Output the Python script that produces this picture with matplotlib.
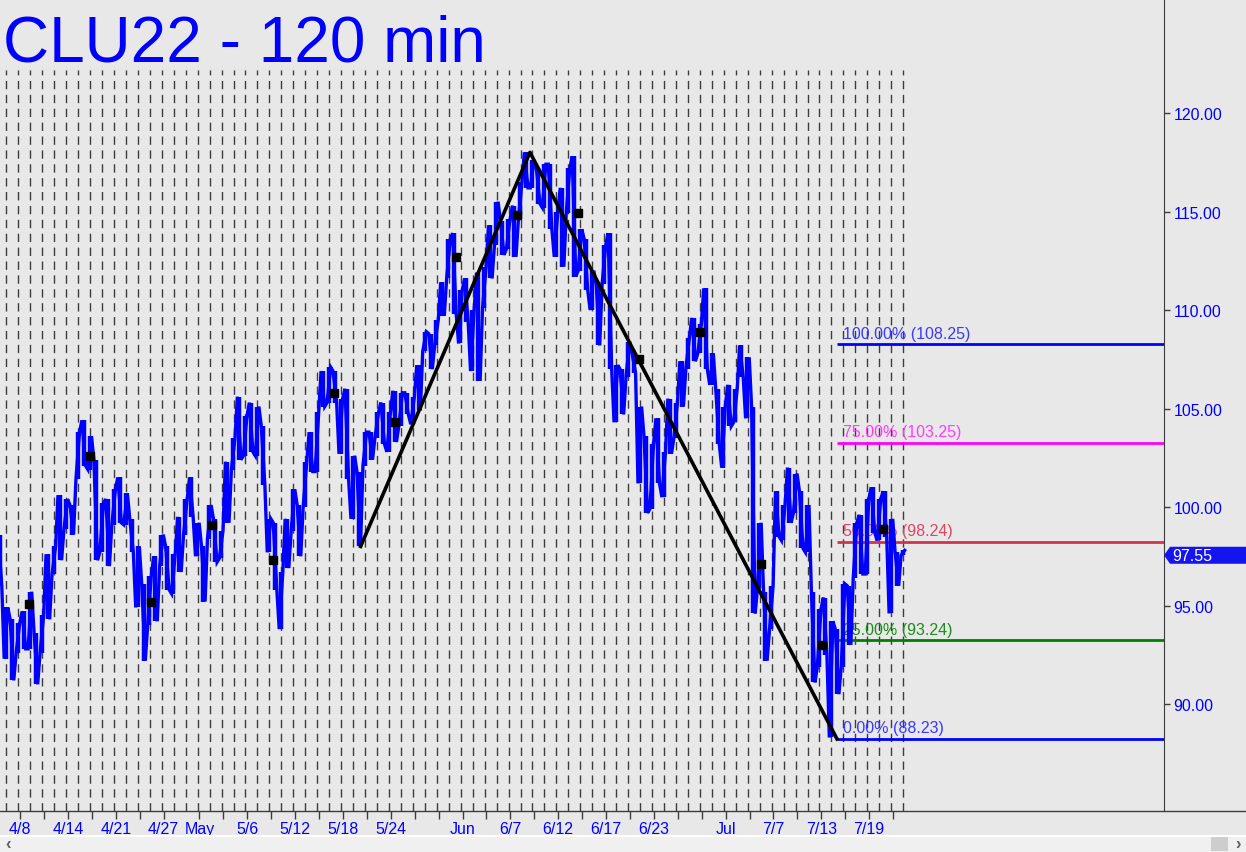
import numpy as np
import matplotlib.pyplot as plt
from matplotlib.lines import Line2D
from matplotlib.patches import Polygon, Rectangle

plt.rcParams['font.family'] = ['Liberation Sans', 'DejaVu Sans']

# 120-min price path, sampled every half trading day (high / low of each slice)
hi = [98.6, 94.9, 94.3, 94.1, 94.7, 95.7, 93.6, 94.5, 97.6, 98.0,
      100.6, 100.4, 100.1, 103.8, 104.4, 103.6, 102.4, 100.2, 100.4, 100.9,
      101.5, 100.7, 99.4, 98.0, 96.1, 96.5, 97.5, 98.6, 98.0, 97.6,
      99.5, 100.4, 101.5, 99.2, 98.0, 100.1, 99.4, 98.8, 102.3, 103.5,
      105.6, 104.6, 105.3, 105.1, 104.1, 99.4, 99.2, 96.7, 99.4, 100.9,
      100.1, 102.3, 103.8, 104.8, 106.9, 107.1, 106.9, 105.5, 106.0, 102.6,
      101.8, 103.8, 103.8, 104.8, 105.3, 104.8, 105.9, 105.8, 105.8, 105.6,
      107.2, 108.9, 108.8, 109.5, 111.4, 113.6, 113.9, 111.0, 111.6, 110.0,
      111.9, 112.2, 114.3, 115.5, 114.5, 114.6, 115.3, 116.5, 118.0, 117.6,
      117.2, 117.4, 117.4, 115.0, 116.2, 117.2, 117.8, 114.1, 113.6, 112.0,
      111.4, 113.3, 113.9, 107.2, 107.0, 108.4, 107.8, 105.1, 103.6, 103.2,
      104.5, 102.8, 105.5, 105.3, 107.4, 108.6, 109.6, 109.3, 111.1, 107.8,
      106.0, 105.1, 106.2, 106.0, 108.2, 107.6, 105.1, 99.2, 95.7, 96.0,
      100.8, 100.1, 102.0, 101.7, 100.8, 100.1, 95.7, 94.8, 95.4, 94.2,
      93.8, 96.1, 96.0, 99.2, 99.6, 100.4, 101.0, 100.4, 100.8, 99.4,
      97.7, 97.8]
lo = [96.0, 92.3, 91.2, 92.6, 92.8, 92.8, 91.0, 92.6, 94.3, 96.6,
      97.3, 98.9, 98.6, 101.4, 102.1, 101.9, 97.3, 97.7, 97.0, 99.1,
      99.2, 99.1, 97.7, 94.9, 92.2, 94.0, 94.2, 97.0, 95.8, 95.6,
      96.7, 98.6, 99.5, 97.5, 95.2, 98.4, 97.2, 97.4, 99.2, 101.9,
      102.4, 102.6, 102.8, 102.6, 101.1, 97.7, 95.8, 93.8, 96.9, 98.8,
      97.5, 100.0, 101.8, 101.8, 105.1, 105.3, 105.3, 102.7, 101.4, 99.4,
      98.0, 102.1, 102.4, 103.5, 103.2, 102.8, 103.3, 104.1, 104.7, 104.2,
      104.9, 107.9, 107.0, 108.2, 109.7, 111.6, 109.8, 108.3, 109.4, 106.9,
      106.4, 110.1, 111.6, 113.3, 112.8, 113.1, 112.7, 114.6, 116.2, 116.2,
      115.4, 115.2, 114.1, 112.7, 112.2, 114.9, 111.7, 112.0, 111.0, 110.0,
      108.2, 111.3, 107.0, 104.3, 104.7, 106.6, 106.8, 101.2, 99.7, 99.9,
      101.2, 100.5, 102.7, 103.5, 105.1, 107.0, 107.4, 107.8, 107.0, 106.2,
      103.2, 102.0, 104.1, 104.3, 106.6, 104.5, 94.6, 95.9, 92.2, 93.8,
      98.5, 98.3, 99.2, 99.7, 97.9, 97.7, 91.1, 91.9, 92.5, 88.3,
      90.5, 91.9, 93.0, 96.4, 96.6, 96.6, 98.7, 98.3, 98.5, 94.6,
      96.0, 97.55]

# weekly close markers (day index, price)
mark_day = [1.9, 7.0, 12.1, 17.2, 22.3, 27.4, 32.5, 37.6, 42.7, 47.8, 52.9, 58.0, 63.1, 68.2, 73.3]
mark_px = [95.1, 102.6, 95.2, 99.1, 97.3, 105.8, 104.3, 112.7, 114.8, 114.9, 107.5, 108.9, 97.1, 93.0, 98.9]

# ABC pivots
piv_day = [29.63, 43.79, 69.46]
piv_px = [98.0, 118.0, 88.23]

fib_pct = ['100.00%', '75.00%', '50.00%', '25.00%', '0.00%']
fib_val = [108.25, 103.25, 98.24, 93.24, 88.23]
fib_line_col = ['#0000ff', '#ff00ff', '#d23250', '#008000', '#0000ff']
fib_text_col = ['#3a3aff', '#ff3cff', '#dc4664', '#1e8c1e', '#3a3aff']

tick_days = [1, 3, 5, 7, 9, 11, 13, 16, 18, 20, 22, 24, 26, 28, 30, 32, 34, 36, 38, 40,
             42, 44, 46, 48, 50, 52, 54, 56, 58, 60, 62, 64, 66, 68, 70, 72, 74]
tick_text = {1: '4/8', 5: '4/14', 9: '4/21', 13: '4/27', 16: 'May', 20: '5/6', 24: '5/12',
             28: '5/18', 32: '5/24', 38: 'Jun', 42: '6/7', 46: '6/12', 50: '6/17',
             54: '6/23', 60: 'Jul', 64: '7/7', 68: '7/13', 72: '7/19'}
last_price = 97.55

bg = '#e8e8e8'
blue = '#0000ff'
W, H = 1246, 853

fig = plt.figure(figsize=(W / 100, H / 100), dpi=100, facecolor=bg)
ax = fig.add_axes([0, 41 / H, 1164 / W, 812 / H])
ax.set_facecolor(bg)
ax.set_xlim(-0.527, 96.81)
ax.set_ylim(84.569, 125.787)

# day grid
for d in range(76):
    ax.plot([d, d], [84.569, 122.2], color='#3c3c3c', lw=1, ls=(0, (6, 4)), zorder=1)

# fib levels
for pct, v, lc, tc in zip(fib_pct, fib_val, fib_line_col, fib_text_col):
    ax.plot([piv_day[2], 96.81], [v, v], color=lc, lw=2, zorder=2, solid_capstyle='butt')
    ax.text(69.96, v + 0.18, f'{pct} ({v:.2f})', color=tc, fontsize=11.5, va='bottom', ha='left', zorder=2)

# price path
n = len(hi)
xs = -0.527 + 0.5 * np.arange(n)
px, py = [], []
for i in range(n):
    px += [xs[i] - 0.15, xs[i] + 0.15]
    py += [hi[i], lo[i]] if i % 2 == 0 else [lo[i], hi[i]]
ax.plot(px, py, color=blue, lw=2.4, zorder=3, solid_joinstyle='miter')
ax.vlines(xs, lo, hi, color=blue, lw=3.2, zorder=3)

ax.plot(mark_day, mark_px, ls='none', marker='s', ms=5.2, color='black', zorder=4)
ax.plot(piv_day, piv_px, color='black', lw=2.6, zorder=5)

# axes styling
for s in ['top', 'left', 'bottom']:
    ax.spines[s].set_visible(False)
ax.spines['right'].set_color('#3c3c3c')
ax.yaxis.tick_right()
ax.set_yticks([90, 95, 100, 105, 110, 115, 120])
ax.set_yticklabels([f'{v:.2f}' for v in [90, 95, 100, 105, 110, 115, 120]])
ax.tick_params(axis='y', length=4, width=1, color='#3c3c3c', labelcolor=blue, labelsize=11.5, pad=3)
ax.set_xticks([d + 0.15 for d in tick_days])
ax.set_xticklabels([tick_text.get(d, '') for d in tick_days])
ax.tick_params(axis='x', length=6, width=1, color='#3c3c3c', labelcolor=blue, labelsize=11.5, pad=1.5)

fig.add_artist(Line2D([0, 1], [41 / H, 41 / H], color='#3c3c3c', lw=1, transform=fig.transFigure))

# last price tag
yp = 41 + (last_price - 84.569) / (125.787 - 84.569) * 812
tag = Polygon([(1164 / W, yp / H), (1170 / W, (yp + 8.5) / H), (1, (yp + 8.5) / H),
               (1, (yp - 8.5) / H), (1170 / W, (yp - 8.5) / H)],
              closed=True, facecolor='#1414f0', edgecolor='none', transform=fig.transFigure)
fig.add_artist(tag)
fig.text(1172 / W, yp / H, f'{last_price:.2f}', color='white', fontsize=11.5, va='center', ha='left')

# scrollbar strip
fig.add_artist(Rectangle((0, 0), 1, 16 / H, facecolor='#f0f0f0', edgecolor='none', transform=fig.transFigure))
fig.add_artist(Line2D([0, 1], [16 / H, 16 / H], color='white', lw=1.5, transform=fig.transFigure))
fig.add_artist(Rectangle((1211 / W, 1 / H), 17 / W, 14 / H, facecolor='#cdcdcd', edgecolor='none', transform=fig.transFigure))
fig.text(8 / W, 8 / H, '‹', color='#606060', fontsize=12, va='center', ha='center', fontweight='bold')
fig.text(1238 / W, 8 / H, '›', color='#606060', fontsize=12, va='center', ha='center', fontweight='bold')

fig.text(3 / W, 1 - 62 / H, 'CLU22 - 120 min', color=blue, fontsize=46, va='baseline', ha='left')

fig.savefig('out.png', dpi=100, facecolor=bg)
